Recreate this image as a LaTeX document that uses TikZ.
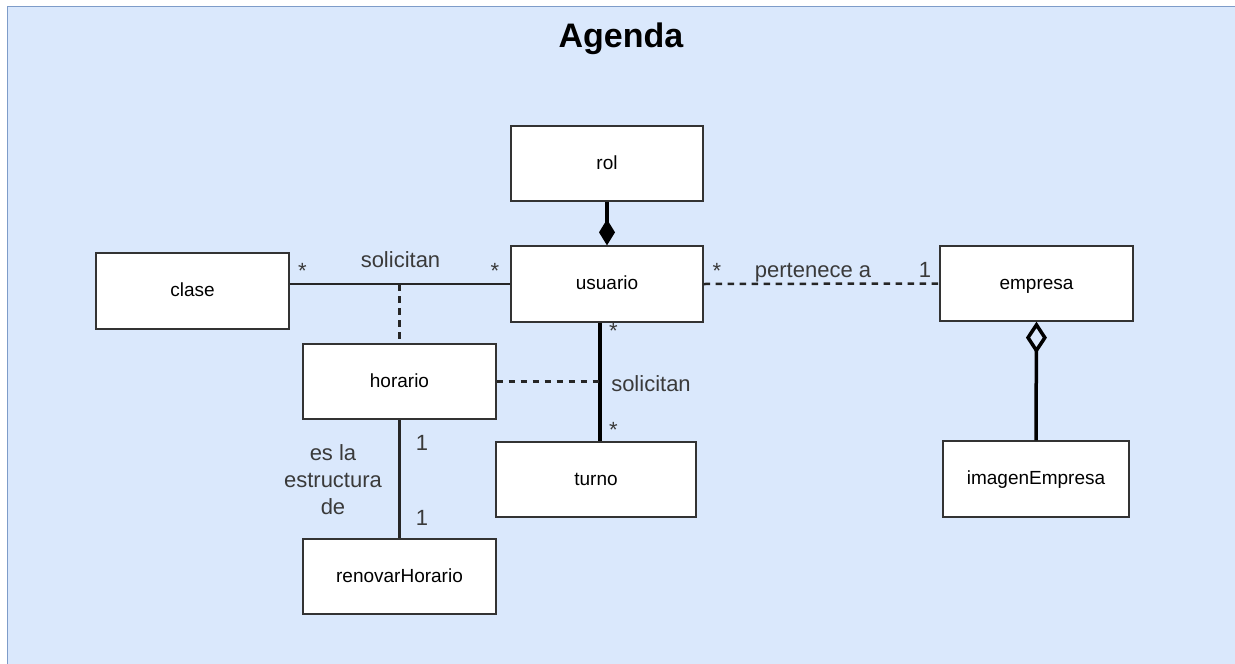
\documentclass[tikz,border=0pt]{standalone}
\usepackage{fontspec}
\setmainfont{Liberation Sans}
\usetikzlibrary{arrows.meta}
\definecolor{bgblue}{HTML}{DAE8FC}
\definecolor{bgedge}{HTML}{7E9CC9}
\definecolor{boxline}{HTML}{333333}
\definecolor{lbl}{HTML}{3A3A3A}
\begin{document}
\begin{tikzpicture}[x=1pt,y=-1pt,
  umlclass/.style={draw=boxline, line width=1.3pt, fill=white, rectangle,
    inner sep=0pt, text height=14pt, text depth=3pt, text=black,
    font=\fontsize{19}{22}\selectfont},
  edgelabel/.style={anchor=base, inner sep=0pt, text=lbl,
    font=\fontsize{22}{27}\selectfont},
  assoc/.style={draw=black!85, line width=2.3pt},
  dashedlink/.style={draw=black!85, line width=2.5pt, dash pattern=on 6.5pt off 5.5pt},
  compos/.style={draw=black, line width=4pt, -{Diamond[length=26pt,width=16pt]}},
  aggreg/.style={draw=black, line width=3.5pt, -{Diamond[open,length=32pt,width=21pt]}}
]
\useasboundingbox (0,0) rectangle (1235,664);
\clip (0,0) rectangle (1235,664);

% diagram background
\fill[white] (0,0) rectangle (1235,664);
\draw[bgedge, fill=bgblue, line width=1.5pt] (7.5,6.5) rectangle (1250,680);

% title
\node[anchor=base, inner sep=0pt, font=\fontsize{34}{40}\selectfont\bfseries] (title) at (621,47) {Agenda};

% classes
\node[umlclass, minimum width=192pt, minimum height=75pt] (rol) at (607,163.5) {rol};
\node[umlclass, minimum width=192pt, minimum height=76pt] (usuario) at (607,284) {usuario};
\node[umlclass, minimum width=193pt, minimum height=76pt] (clase) at (192.5,291) {clase};
\node[umlclass, minimum width=193pt, minimum height=75pt] (horario) at (399.5,381.5) {horario};
\node[umlclass, minimum width=200pt, minimum height=75pt] (turno) at (596,479.5) {turno};
\node[umlclass, minimum width=193pt, minimum height=75pt] (renovar) at (399.5,576.5) {renovarHorario};
\node[umlclass, minimum width=193pt, minimum height=75pt] (empresa) at (1036.5,283.5) {empresa};
\node[umlclass, minimum width=186pt, minimum height=76pt] (imagen) at (1036,479) {imagenEmpresa};

% helper points on the associations
\coordinate (usuTop) at ([xshift=-7pt]usuario.south);
\coordinate (turTop) at ([xshift=4pt]turno.north);
\coordinate (claseMid) at (horario.north |- usuario.west);
\coordinate (turnoMid) at (horario.east -| usuTop);

% connectors
\draw[assoc] (usuario.west) -- (usuario.west -| clase.east);
\draw[dashedlink] (claseMid) -- (horario.north);
\draw[compos] (rol.south) -- (usuario.north);
\draw[draw=black, line width=4pt] (usuTop) -- (turTop);
\draw[dashedlink] (horario.east) -- (turnoMid);
\draw[dashedlink] (usuario.east) -- (empresa.west);
\draw[aggreg] (imagen.north) -- (empresa.south);
\draw[draw=black!85, line width=2.6pt] (horario.south) -- (renovar.north);

% association labels and multiplicities
\node[edgelabel] (l1) at (400.5,267) {solicitan};
\node[edgelabel] (m1) at (302.5,278) {*};
\node[edgelabel] (m2) at (495,278) {*};
\node[edgelabel] (m3) at (717,278) {*};
\node[edgelabel] (l2) at (813,277) {pertenece a};
\node[edgelabel] (m4) at (925,277) {1};
\node[edgelabel] (m5) at (613.5,338) {*};
\node[edgelabel] (m6) at (613.5,437) {*};
\node[edgelabel] (l3) at (651,391) {solicitan};
\node[edgelabel] (m7) at (422,450) {1};
\node[edgelabel] (m8) at (422,525) {1};
\node[edgelabel, anchor=center, align=center] (l4) at (333,480) {es la\\estructura\\de};
\end{tikzpicture}
\end{document}
